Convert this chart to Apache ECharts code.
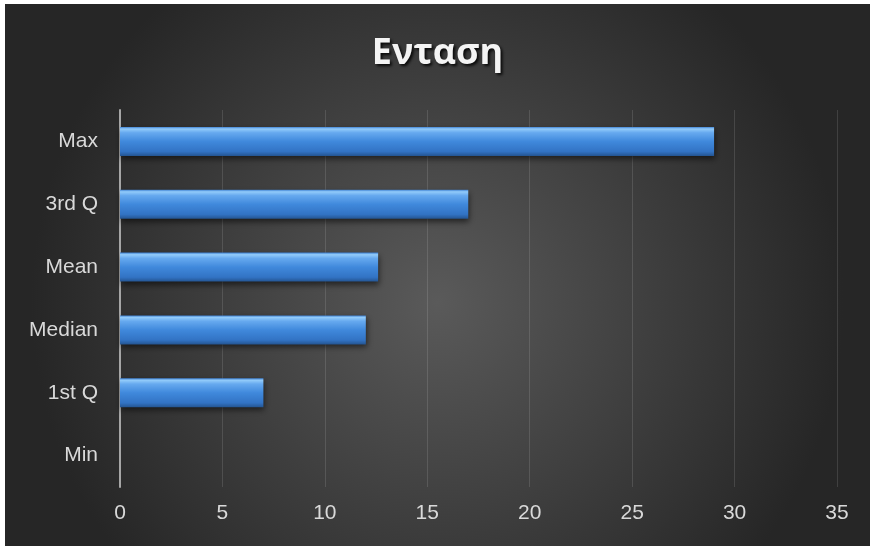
<!DOCTYPE html>
<html>
<head>
<meta charset="utf-8">
<script src="https://cdn.jsdelivr.net/npm/echarts@6/dist/echarts.min.js"></script>
<style>
  html, body { margin: 0; padding: 0; background: #ffffff; }
  #chart { position: absolute; left: 5px; top: 4px; width: 865px; height: 542px; }
</style>
</head>
<body>
<div id="chart"></div>
<script>
// Summary statistics for "Ενταση"
const categories = ['Min', '1st Q', 'Median', 'Mean', '3rd Q', 'Max'];
const values = [0, 7, 12, 12.6, 17, 29];
const xTicks = [0, 5, 10, 15, 20, 25, 30, 35];

const labelFont = '"Liberation Sans Narrow", "Arial Narrow", "Liberation Sans", sans-serif';

const chart = echarts.init(document.getElementById('chart'));
chart.setOption({
  backgroundColor: {
    type: 'radial', x: 0.5, y: 0.55, r: 0.75,
    colorStops: [
      { offset: 0, color: '#5a5a5a' },
      { offset: 1, color: '#262626' }
    ]
  },
  title: {
    text: 'Ενταση',
    left: 'center',
    top: 27,
    textStyle: {
      fontFamily: '"Open Sans", "Noto Sans", sans-serif',
      fontWeight: 'bold',
      fontSize: 36,
      color: '#f4f4f4',
      textShadowColor: 'rgba(0,0,0,0.85)',
      textShadowBlur: 3,
      textShadowOffsetX: 2,
      textShadowOffsetY: 2
    }
  },
  grid: { left: 115, right: 33, top: 106, bottom: 59 },
  xAxis: {
    type: 'value',
    min: xTicks[0],
    max: xTicks[xTicks.length - 1],
    interval: 5,
    axisLine: { show: false },
    axisTick: { show: false },
    splitLine: { lineStyle: { color: 'rgba(255,255,255,0.12)', width: 1 } },
    axisLabel: { color: '#d9d9d9', fontSize: 21, fontFamily: labelFont, margin: 16 }
  },
  yAxis: {
    type: 'category',
    data: categories,
    axisLine: { show: true, lineStyle: { color: '#a6a6a6', width: 2 } },
    axisTick: { show: false },
    axisLabel: { color: '#d9d9d9', fontSize: 21, fontFamily: labelFont, margin: 22 }
  },
  series: [{
    type: 'bar',
    data: values,
    barWidth: 29,
    itemStyle: {
      color: {
        type: 'linear', x: 0, y: 0, x2: 0, y2: 1,
        colorStops: [
          { offset: 0, color: '#3f82d4' },
          { offset: 0.07, color: '#92cbfa' },
          { offset: 0.2, color: '#66a9ef' },
          { offset: 0.5, color: '#4089dc' },
          { offset: 0.85, color: '#3273c4' },
          { offset: 1, color: '#245592' }
        ]
      },
      borderWidth: 0,
      shadowColor: 'rgba(0,0,0,0.55)',
      shadowBlur: 6,
      shadowOffsetX: 1,
      shadowOffsetY: 3
    },
    emphasis: { disabled: true }
  }],
  animation: false
});
</script>
</body>
</html>
